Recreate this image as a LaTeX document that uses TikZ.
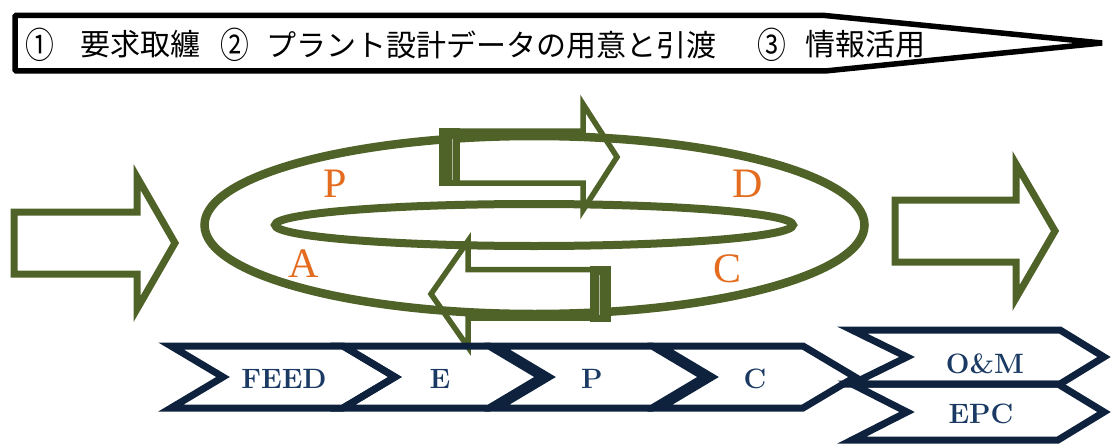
\documentclass[tikz,border=0pt]{standalone}
\usepackage{fontspec}
\newfontfamily\jpfont{Noto Sans CJK JP}
\newfontfamily\pdcafont{Liberation Serif}
\definecolor{pdcagreen}{HTML}{4F6228}
\definecolor{pdcaorange}{HTML}{E46C1E}
\definecolor{navyline}{HTML}{0E223E}
\definecolor{navytext}{HTML}{1A3A64}
\begin{document}
\begin{tikzpicture}[x=1pt,y=-1pt,
  banner/.style={draw=black,line width=5.5pt,line join=bevel},
  bigarrow/.style={draw=pdcagreen,line width=7pt,line join=miter},
  cyclearrow/.style={draw=pdcagreen,line width=5.5pt,line join=miter},
  arrowbar/.style={fill=pdcagreen},
  barline/.style={draw=white!55!pdcagreen,line width=1pt},
  ring/.style={draw=pdcagreen},
  pdca/.style={text=pdcaorange,font=\pdcafont\fontsize{42}{42}\selectfont,inner sep=0pt,anchor=base},
  chev/.style={draw=navyline,line width=7pt,line join=miter},
  chevtext/.style={text=navytext,font=\bfseries\fontsize{28}{28}\selectfont,inner sep=0pt,anchor=base},
  jp/.style={font=\jpfont\fontsize{30}{30}\selectfont,inner sep=0pt,anchor=center},
  circnum/.style={font=\jpfont\fontsize{36}{36}\selectfont,inner sep=0pt,anchor=center,xscale=0.8}]
\useasboundingbox (0,0) rectangle (1111,444);

% top banner
\draw[banner] (15,15.5) -- (825,15.5) -- (1102,43) -- (825,71) -- (15,71) -- cycle;
\node[circnum] (n1) at (40,44.5) {①};
\node[jp] (t1) at (140,44.5) {要求取纏};
\node[circnum] (n2) at (235,44.5) {②};
\node[jp] (t2) at (491,44.5) {プラント設計データの用意と引渡};
\node[circnum] (n3) at (772,44.5) {③};
\node[jp] (t3) at (865,44.5) {情報活用};

% big arrows
\draw[bigarrow] (14,212) -- (137,212) -- (137,177) -- (175,243) -- (137,309) -- (137,274) -- (14,274) -- cycle;
\draw[bigarrow] (895,200) -- (1016,200) -- (1016,164) -- (1055,231) -- (1016,298) -- (1016,262) -- (895,262) -- cycle;

% ellipses
\draw[ring,line width=8.5pt] (534.5,225) ellipse [x radius=330, y radius=89];
\draw[ring,line width=8pt] (534,225) ellipse [x radius=259, y radius=21];

% upper cycle arrow
\draw[cyclearrow] (450,131) -- (583,131) -- (583,104) -- (617,157) -- (583,210) -- (583,183) -- (450,183);
\fill[arrowbar] (439,128) rectangle (460,186);
\draw[barline] (452,139) -- (452,180);

% lower cycle arrow
\draw[cyclearrow] (600,269.5) -- (468,269.5) -- (468,241) -- (431,294) -- (468,347) -- (468,318) -- (600,318);
\fill[arrowbar] (590,266) rectangle (611,322);
\draw[barline] (599,275) -- (599,315);

% PDCA letters
\node[pdca] (lp) at (335,197) {P};
\node[pdca] (ld) at (748,197) {D};
\node[pdca] (la) at (303.5,277) {A};
\node[pdca] (lc) at (727,282) {C};

% chevrons
\draw[chev] (171,346) -- (343,346) -- (395,377) -- (343,408) -- (171,408) -- (223,377) -- cycle;
\draw[chev] (343,346) -- (489,346) -- (541,377) -- (489,408) -- (343,408) -- (395,377) -- cycle;
\draw[chev] (497,346) -- (652,346) -- (704,377) -- (652,408) -- (497,408) -- (549,377) -- cycle;
\draw[chev] (660,346) -- (803,346) -- (855,377) -- (803,408) -- (660,408) -- (712,377) -- cycle;
\draw[chev] (852,330) -- (1060,330) -- (1104,357) -- (1060,384) -- (852,384) -- (907,357) -- cycle;
\draw[chev] (852,384) -- (1058,384) -- (1104,412) -- (1058,440) -- (852,440) -- (907,412) -- cycle;

\node[chevtext] (feed) at (284,388) {FEED};
\node[chevtext] (e) at (440,388) {E};
\node[chevtext] (p) at (592,388) {P};
\node[chevtext] (c) at (755,388) {C};
\node[chevtext] (om) at (985,373) {O\&M};
\node[chevtext] (epc) at (981,423) {EPC};
\end{tikzpicture}
\end{document}
